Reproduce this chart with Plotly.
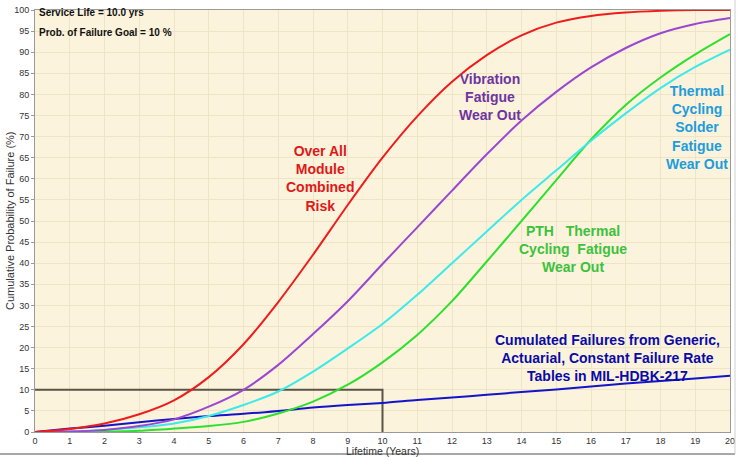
import plotly.graph_objects as go

years = list(range(0, 21))

# cumulative probability of failure (%)
overall_risk = [0, 0.7, 2.0, 4.2, 7.5, 13.0, 20.8, 30.8, 42.0, 53.8, 65.0, 74.8,
                83.0, 89.3, 94.0, 97.0, 98.6, 99.4, 99.8, 100, 100]
vibration = [0, 0.1, 0.5, 1.4, 3.0, 6.0, 10.0, 15.9, 23.2, 31.0, 39.8, 48.5,
             57.2, 65.8, 73.8, 80.6, 86.4, 91.0, 94.5, 96.7, 98.1]
solder_cycling = [0, 0.1, 0.5, 1.1, 2.0, 3.8, 6.4, 9.6, 14.3, 19.8, 25.6, 32.5,
                  40.0, 47.5, 55.0, 62.0, 69.0, 75.5, 81.5, 86.5, 90.6]
pth_cycling = [0, 0, 0.1, 0.3, 0.8, 1.4, 2.4, 4.4, 7.2, 11.2, 16.5, 23.0,
               31.0, 40.4, 50.0, 59.7, 69.3, 77.5, 84.0, 89.5, 94.3]
generic_217 = [0, 0.8, 1.5, 2.3, 3.1, 3.8, 4.3, 5.0, 5.8, 6.4, 6.9, 7.6,
               8.2, 8.8, 9.5, 10.1, 10.8, 11.5, 12.1, 12.7, 13.3]

service_life = 10.0
failure_goal = 10

series = [
    (generic_217, "#1414C8"),
    (pth_cycling, "#2EE02E"),
    (solder_cycling, "#3CEAEA"),
    (vibration, "#9A48D0"),
    (overall_risk, "#EE1C1C"),
]

fig = go.Figure()

# goal box: 10 % probability at 10 years
fig.add_trace(go.Scatter(x=[0, service_life, service_life], y=[failure_goal, failure_goal, 0],
                         mode="lines", line=dict(color="#5A5446", width=2),
                         hoverinfo="skip"))

for vals, col in series:
    fig.add_trace(go.Scatter(x=years, y=vals, mode="lines",
                             line=dict(color=col, width=2, shape="spline", smoothing=0.8)))

labels = [
    (320, 178, "Over All<br>Module<br>Combined<br>Risk", "#E01818"),
    (490, 97, "Vibration<br>Fatigue<br>Wear Out", "#6E35A0"),
    (573, 249, "PTH   Thermal<br>Cycling  Fatigue<br>Wear Out", "#3CC23C"),
    (697, 127, "Thermal<br>Cycling<br>Solder<br>Fatigue<br>Wear Out", "#1E9CDC"),
    (607, 358, "Cumulated Failures from Generic,<br>Actuarial, Constant Failure Rate<br>Tables in MIL-HDBK-217", "#0A0AA8"),
]

L, R, T, B = 35, 8, 10, 25
W, H = 738, 457
pw, ph = W - L - R, H - T - B


def px_to_paper(px, py):
    return (px - L) / pw, 1 - (py - T) / ph


for px, py, txt, col in labels:
    xp, yp = px_to_paper(px, py)
    bold = "<br>".join("<b>" + s + "</b>" for s in txt.split("<br>"))
    fig.add_annotation(x=xp, y=yp, xref="paper", yref="paper", xanchor="center", yanchor="middle",
                       text=bold, showarrow=False, align="center",
                       font=dict(family="Liberation Sans, Arial", size=14, color=col))

for py, txt in [(12, "Service Life = 10.0 yrs"), (33, "Prob. of Failure Goal = 10 %")]:
    xp, yp = px_to_paper(37, py)
    fig.add_annotation(x=xp, y=yp, xref="paper", yref="paper", xanchor="left", yanchor="middle",
                       text="<b>" + txt + "</b>", showarrow=False,
                       font=dict(family="Liberation Sans, Arial", size=10, color="#111"))

# axis titles
xp, yp = px_to_paper(382, 451)
fig.add_annotation(x=xp, y=yp, xref="paper", yref="paper", xanchor="center", yanchor="middle",
                   text="Lifetime (Years)", showarrow=False, font=dict(size=10.5, color="#333"))
xp, yp = px_to_paper(10, 221)
fig.add_annotation(x=xp, y=yp, xref="paper", yref="paper", xanchor="center", yanchor="middle",
                   text="Cumulative Probability of Failure (%)",
                   showarrow=False, textangle=-90, font=dict(size=11, color="#333"))

# window frame lines at right and bottom edges
fig.add_shape(type="line", xref="paper", yref="paper",
              x0=-L / pw, x1=(W - 3 - L) / pw, y0=-(B - 3) / ph, y1=-(B - 3) / ph,
              line=dict(color="#A8A8A8", width=2))
fig.add_shape(type="line", xref="paper", yref="paper",
              x0=(W - 3 - L) / pw, x1=(W - 3 - L) / pw, y0=-(B - 3) / ph, y1=1 + T / ph,
              line=dict(color="#D0D0D0", width=1))

fig.update_layout(
    width=W, height=H,
    margin=dict(l=L, r=R, t=T, b=B, autoexpand=False),
    paper_bgcolor="white",
    plot_bgcolor="#FBF3DC",
    showlegend=False,
    font=dict(family="Liberation Sans, Arial", size=9, color="#333"),
)
fig.update_xaxes(range=[0, 20], dtick=1, tick0=0, showgrid=True, gridcolor="#EFE4C6",
                 zeroline=False, showline=True, linecolor="#9A9A9A", mirror=True,
                 ticks="", tickfont=dict(size=9), automargin=False)
fig.update_yaxes(range=[0, 100], dtick=5, tick0=0, showgrid=True, gridcolor="#EFE4C6",
                 zeroline=False, showline=True, linecolor="#9A9A9A", mirror=True,
                 ticks="outside", ticklen=3, tickcolor="#9A9A9A",
                 tickfont=dict(size=9), automargin=False)

# page body has a default 8px margin; drop it so the figure fills the window
fig.write_html("out.html", config={"displayModeBar": False},
               post_script="document.body.style.margin='0';")
